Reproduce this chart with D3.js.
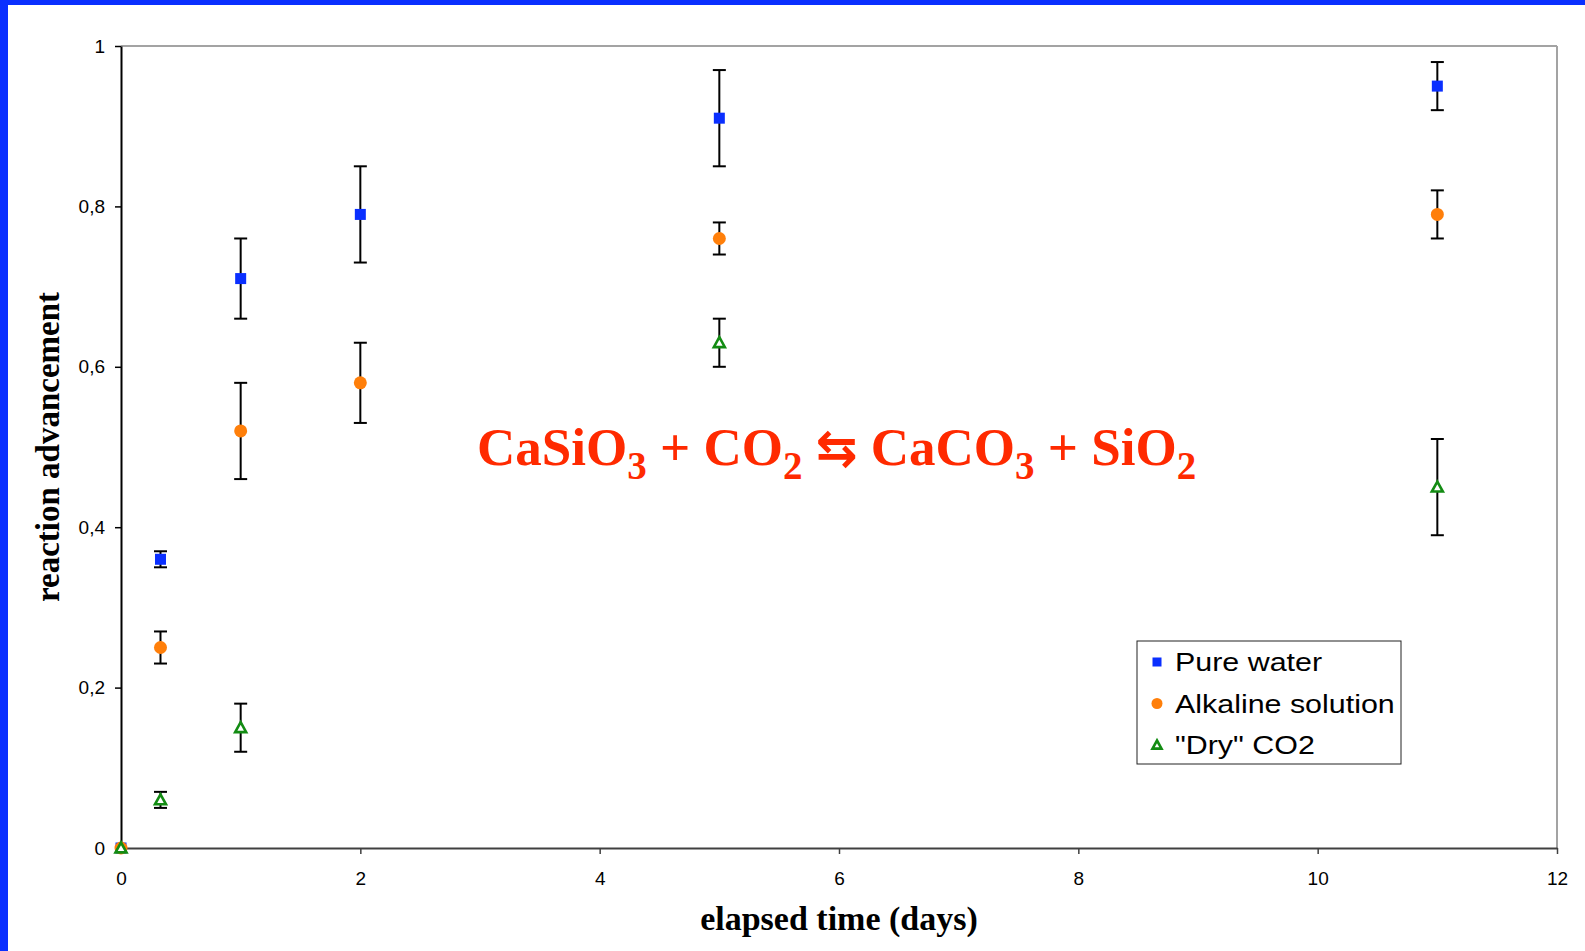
<!DOCTYPE html>
<html>
<head>
<meta charset="utf-8">
<script src="https://cdn.jsdelivr.net/npm/d3@7"></script>
<style>
  html, body { margin: 0; padding: 0; background: #ffffff; }
  svg { display: block; }
</style>
</head>
<body>
<script>
// Elapsed time (days) at each sampling
const timesWater = [0, 0.33, 1, 2, 5, 11];
const timesAlkaline = [0, 0.33, 1, 2, 5, 11];
const timesDry = [0, 0.33, 1, 5, 11];

// Reaction advancement and error-bar half widths per series
const pureWater = [0, 0.36, 0.71, 0.79, 0.91, 0.95];
const pureWaterErr = [0, 0.01, 0.05, 0.06, 0.06, 0.03];
const alkaline = [0, 0.25, 0.52, 0.58, 0.76, 0.79];
const alkalineErr = [0, 0.02, 0.06, 0.05, 0.02, 0.03];
const dryCO2 = [0, 0.06, 0.15, 0.63, 0.45];
const dryCO2Err = [0, 0.01, 0.03, 0.03, 0.06];

const seriesNames = ["Pure water", "Alkaline solution", "\"Dry\" CO2"];
const xTicks = [0, 2, 4, 6, 8, 10, 12];
const yTicks = [0, 0.2, 0.4, 0.6, 0.8, 1];

const W = 1585, H = 951;
const plot = { left: 121, right: 1557, top: 46, bottom: 848 };
const sans = "Liberation Sans, Arial, sans-serif";
const serif = "Liberation Serif, Times New Roman, serif";

const svg = d3.select("body").append("svg").attr("width", W).attr("height", H);

// Frame: blue strips along the top and left edges
svg.append("rect").attr("x", 0).attr("y", 0).attr("width", W).attr("height", 5).attr("fill", "#0a2fff");
svg.append("rect").attr("x", 0).attr("y", 0).attr("width", 8).attr("height", H).attr("fill", "#0a2fff");

const x = d3.scaleLinear().domain([0, 12]).range([plot.left, plot.right]);
const y = d3.scaleLinear().domain([0, 1]).range([plot.bottom, plot.top]);

const commaFmt = v => d3.format("")(+v.toFixed(2)).replace(".", ",");

// Grey top and right borders of the plot area
svg.append("line").attr("x1", plot.left).attr("x2", plot.right).attr("y1", plot.top).attr("y2", plot.top)
  .attr("stroke", "#a3a3a3").attr("stroke-width", 2);
svg.append("line").attr("x1", plot.right).attr("x2", plot.right).attr("y1", plot.top).attr("y2", plot.bottom)
  .attr("stroke", "#a3a3a3").attr("stroke-width", 2);

// Axes
const xAxis = d3.axisBottom(x).tickValues(xTicks).tickSizeInner(6).tickSizeOuter(0).tickPadding(18).tickFormat(commaFmt);
const yAxis = d3.axisLeft(y).tickValues(yTicks).tickSizeInner(6).tickSizeOuter(0).tickPadding(10).tickFormat(commaFmt);

const gx = svg.append("g").attr("transform", `translate(0,${plot.bottom})`).call(xAxis)
  .attr("font-family", sans).attr("font-size", 19);
gx.select(".domain").attr("stroke", "#404040").attr("stroke-width", 2);
gx.selectAll(".tick line").attr("stroke", "#404040").attr("stroke-width", 1.5);
gx.selectAll(".tick text").attr("fill", "#000");

const gy = svg.append("g").attr("transform", `translate(${plot.left},0)`).call(yAxis)
  .attr("font-family", sans).attr("font-size", 19);
gy.select(".domain").attr("stroke", "#000").attr("stroke-width", 2);
gy.selectAll(".tick line").attr("stroke", "#000").attr("stroke-width", 1.5);
gy.selectAll(".tick text").attr("fill", "#000");

// Axis titles
svg.append("text").attr("x", (plot.left + plot.right) / 2).attr("y", 930)
  .attr("text-anchor", "middle").attr("font-family", serif)
  .attr("font-weight", "bold").attr("font-size", 34).text("elapsed time (days)");
svg.append("text").attr("transform", `translate(59,${(plot.top + plot.bottom) / 2}) rotate(-90)`)
  .attr("text-anchor", "middle").attr("font-family", serif)
  .attr("font-weight", "bold").attr("font-size", 33).text("reaction advancement");

// Reaction equation
const eq = svg.append("text").attr("x", 477).attr("y", 465)
  .attr("font-family", serif).attr("font-weight", "bold")
  .attr("font-size", 53).attr("fill", "#ff2a00");
const eqParts = [
  ["CaSiO", "n"], ["3", "sub"], [" + CO", "n"], ["2", "sub"], [" ", "n"], ["\u21C6", "arrow"],
  [" CaCO", "n"], ["3", "sub"], [" + SiO", "n"], ["2", "sub"]
];
const subShift = 14;
eqParts.forEach(([t, kind], i) => {
  const ts = eq.append("tspan").text(t);
  const prev = i > 0 ? eqParts[i - 1][1] : "n";
  let dy = 0;
  if (kind === "sub") { ts.attr("font-size", 39); dy += subShift; }
  if (prev === "sub") dy -= subShift;
  if (kind === "arrow") ts.attr("font-family", "DejaVu Sans, sans-serif").attr("font-size", 50);
  if (dy !== 0) ts.attr("dy", dy);
});

// Series
const series = [
  { name: seriesNames[0], xs: timesWater, ys: pureWater, err: pureWaterErr, shape: "square", color: "#0a2fff" },
  { name: seriesNames[1], xs: timesAlkaline, ys: alkaline, err: alkalineErr, shape: "circle", color: "#ff7f0a" },
  { name: seriesNames[2], xs: timesDry, ys: dryCO2, err: dryCO2Err, shape: "triangle", color: "#138c13" }
];

function drawMarker(g, shape, color, size) {
  if (shape === "square") {
    g.append("rect").attr("x", -size / 2).attr("y", -size / 2).attr("width", size).attr("height", size).attr("fill", color);
  } else if (shape === "circle") {
    g.append("circle").attr("r", size / 2).attr("fill", color);
  } else {
    const s = size;
    g.append("path").attr("d", `M0,${-s * 0.5}L${s * 0.5},${s * 0.4}L${-s * 0.5},${s * 0.4}Z`)
      .attr("fill", "#fff").attr("stroke", color).attr("stroke-width", 2.6).attr("stroke-linejoin", "miter");
  }
}

const sizes = { square: 11, circle: 13, triangle: 11 };

// Error bars first, markers on top
series.forEach(s => {
  const pts = s.xs.map((t, i) => ({ t, v: s.ys[i], e: s.err[i] })).filter(p => p.e > 0);
  const gb = svg.append("g").attr("stroke", "#000").attr("stroke-width", 2);
  gb.selectAll("line.v").data(pts).join("line").attr("class", "v")
    .attr("x1", p => x(p.t)).attr("x2", p => x(p.t))
    .attr("y1", p => y(p.v + p.e)).attr("y2", p => y(p.v - p.e));
  gb.selectAll("line.top").data(pts).join("line").attr("class", "top")
    .attr("x1", p => x(p.t) - 6.5).attr("x2", p => x(p.t) + 6.5)
    .attr("y1", p => y(p.v + p.e)).attr("y2", p => y(p.v + p.e));
  gb.selectAll("line.bot").data(pts).join("line").attr("class", "bot")
    .attr("x1", p => x(p.t) - 6.5).attr("x2", p => x(p.t) + 6.5)
    .attr("y1", p => y(p.v - p.e)).attr("y2", p => y(p.v - p.e));
});
series.forEach(s => {
  s.xs.forEach((t, i) => {
    const g = svg.append("g").attr("transform", `translate(${x(t)},${y(s.ys[i])})`);
    drawMarker(g, s.shape, s.color, sizes[s.shape]);
  });
});

// Legend
const leg = svg.append("g").attr("transform", "translate(1137,641)");
leg.append("rect").attr("width", 264).attr("height", 123).attr("fill", "#fff").attr("stroke", "#222").attr("stroke-width", 1);
series.forEach((s, i) => {
  const cy = 21 + i * 41.5;
  const g = leg.append("g").attr("transform", `translate(20,${cy})`);
  drawMarker(g, s.shape, s.color, s.shape === "circle" ? 11 : 9);
  leg.append("text").attr("transform", `translate(38,${cy + 9}) scale(1.17,1)`)
    .attr("font-family", sans).attr("font-size", 26).attr("fill", "#000").text(s.name);
});
</script>
</body>
</html>
